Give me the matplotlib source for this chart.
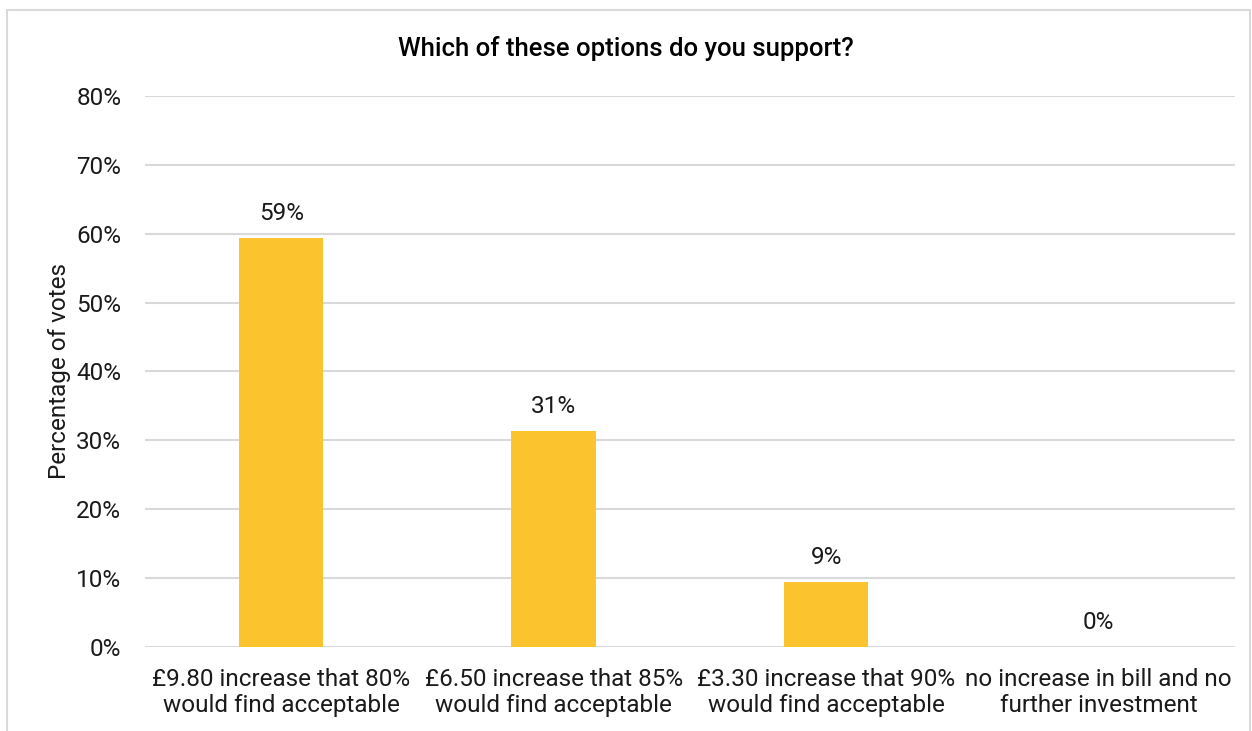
import matplotlib.pyplot as plt
from matplotlib.patches import Rectangle
from matplotlib.ticker import FuncFormatter

plt.rcParams['font.family'] = ['Roboto', 'DejaVu Sans']

categories = [
    "£9.80 increase that 80%\nwould find acceptable",
    "£6.50 increase that 85%\nwould find acceptable",
    "£3.30 increase that 90%\nwould find acceptable",
    "no increase in bill and no\nfurther investment",
]
votes_pct = [59.4, 31.3, 9.4, 0.0]
y_ticks = [0, 10, 20, 30, 40, 50, 60, 70, 80]

fig = plt.figure(figsize=(12.52, 7.31), dpi=100)
ax = fig.add_axes([0.1158, 0.1149, 0.8706, 0.7538])

x = range(len(categories))
ax.bar(x, votes_pct, width=0.31, color="#FBC42F", zorder=3)

for xi, v in zip(x, votes_pct):
    ax.text(xi, v + 1.9, f"{v:.0f}%", ha="center", va="bottom",
            fontsize=17.5, color="#1a1a1a")

ax.set_xlim(-0.5, len(categories) - 0.5)
ax.set_ylim(0, 80)
ax.set_yticks(y_ticks)
ax.yaxis.set_major_formatter(FuncFormatter(lambda v, _: f"{v:.0f}%"))
ax.set_xticks(list(x))
ax.set_xticklabels(categories, fontsize=17.5, color="#1a1a1a", linespacing=1.15)
ax.tick_params(axis="y", labelsize=17.5, labelcolor="#1a1a1a", length=0, pad=17)
ax.tick_params(axis="x", length=0, pad=15)

ax.grid(axis="y", color="#d9d9d9", linewidth=1.5, zorder=0)
for s in ax.spines.values():
    s.set_visible(False)

ax.set_ylabel("Percentage of votes", fontsize=17.5, color="#1a1a1a", labelpad=4)
fig.text(0.5, 0.934, "Which of these options do you support?", ha="center",
         va="center", fontsize=18.5, fontweight="medium", color="#000000")

# light outer frame
fig.patches.append(Rectangle((7 / 1252, -0.02), 1243 / 1252, 1 - 10 / 731 + 0.02,
                             transform=fig.transFigure, fill=False,
                             edgecolor="#d9d9d9", linewidth=1.5))

fig.savefig("out.png", dpi=100)
